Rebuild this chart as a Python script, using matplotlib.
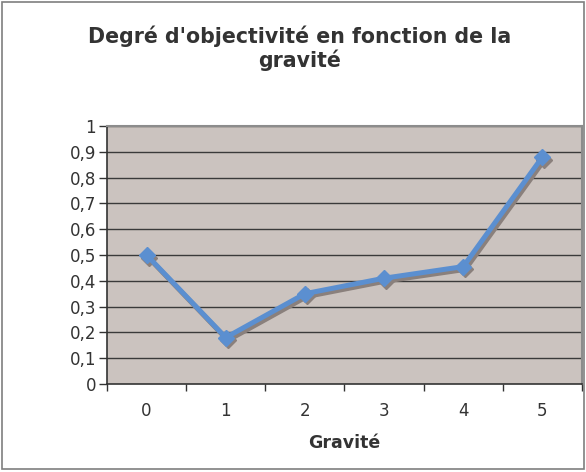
import matplotlib
matplotlib.use("Agg")
import matplotlib.pyplot as plt
import matplotlib.transforms as mtransforms
from matplotlib.patches import Rectangle

# data
gravite = [0, 1, 2, 3, 4, 5]
objectivite = [0.50, 0.18, 0.35, 0.41, 0.455, 0.88]
y_ticks = [0, 0.1, 0.2, 0.3, 0.4, 0.5, 0.6, 0.7, 0.8, 0.9, 1]
y_labels = ['0', '0,1', '0,2', '0,3', '0,4', '0,5', '0,6', '0,7', '0,8', '0,9', '1']

W, H = 586, 472
fig = plt.figure(figsize=(W / 100, H / 100), dpi=100)
ax = fig.add_axes([107 / W, 1 - 384 / H, 475 / W, 258 / H])
ax.set_facecolor('#cbc3bf')

# outer chart border
fig.patches.append(Rectangle((2 / W, 3 / H), (W - 4) / W, (H - 5) / H,
                             transform=fig.transFigure, fill=False,
                             edgecolor='#7f7f7f', linewidth=1.2))

# horizontal gridlines
for yv in y_ticks[1:]:
    ax.axhline(yv, color='#3a3a3a', linewidth=1.0, zorder=1)

# shadow of the line
shadow = mtransforms.offset_copy(ax.transData, fig=fig, x=1.5, y=-2.0, units='points')
ax.plot(gravite, objectivite, color='#8a807c', linewidth=3.6, marker='D',
        markersize=8, transform=shadow, zorder=2, solid_joinstyle='miter')
ax.plot(gravite, objectivite, color='#5b8fd0', linewidth=3.6, marker='D',
        markersize=8, zorder=3, solid_joinstyle='miter')

ax.set_xlim(-0.5, 5.5)
ax.set_ylim(0, 1)

ax.set_yticks(y_ticks)
ax.set_yticklabels(y_labels, fontsize=12, color='#333333')
ax.set_xticks(gravite)
ax.set_xticklabels([str(g) for g in gravite], fontsize=12, color='#333333')
ax.set_xticks([i - 0.5 for i in range(7)], minor=True)
ax.tick_params(axis='x', which='major', length=0, pad=13)
ax.tick_params(axis='x', which='minor', length=5, width=1, color='#333333', direction='out')
ax.tick_params(axis='y', length=6, width=1, color='#333333', direction='out', pad=2)

for side in ['top', 'right']:
    ax.spines[side].set_color('#8c8c8c')
    ax.spines[side].set_linewidth(1.5)
ax.spines['left'].set_color('#333333')
ax.spines['bottom'].set_color('#333333')
ax.spines['left'].set_linewidth(1.2)
ax.spines['bottom'].set_linewidth(1.2)

fig.text(300 / W, 1 - 48 / H, "Degré d'objectivité en fonction de la\ngravité",
         ha='center', va='center', fontsize=14.8, fontweight='bold',
         color='#333333', linespacing=1.15)
fig.text(344 / W, 1 - 443 / H, 'Gravité', ha='center', va='center',
         fontsize=12.5, fontweight='bold', color='#333333')

fig.savefig('out.png', dpi=100)
